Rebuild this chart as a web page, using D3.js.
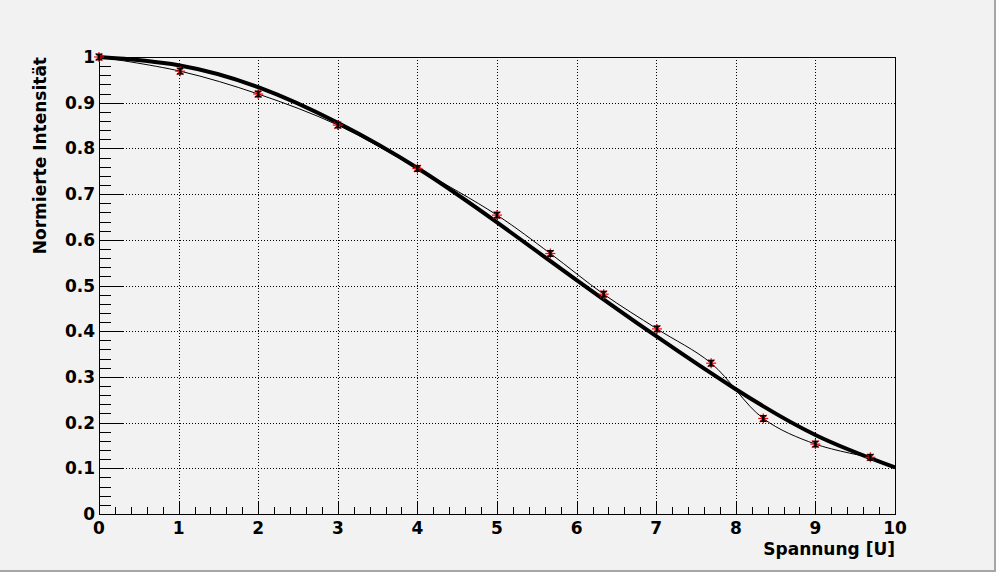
<!DOCTYPE html>
<html><head><meta charset="utf-8">
<script src="https://cdn.jsdelivr.net/npm/d3@7"></script>
<style>body{margin:0;background:#f2f2f2;}svg{display:block;}</style>
</head><body>
<script>
// Measured data points
const dataX = [0, 1.02, 2.0, 3.0, 4.0, 5.0, 5.67, 6.34, 7.01, 7.69, 8.345, 9.0, 9.69];
const dataY = [1.0, 0.969, 0.919, 0.851, 0.756, 0.654, 0.570, 0.481, 0.405, 0.330, 0.209, 0.153, 0.124];
const errY  = [0.006, 0.006, 0.006, 0.006, 0.006, 0.006, 0.006, 0.006, 0.006, 0.006, 0.006, 0.006, 0.006];
// Fit curve
const fitX = [0, 1, 2, 3, 4, 5, 6, 7, 8, 9, 10];
const fitY = [1.0, 0.982, 0.934, 0.856, 0.757, 0.638, 0.512, 0.389, 0.273, 0.173, 0.102];
const xTicks = [0,1,2,3,4,5,6,7,8,9,10];
const yTicks = [0,0.1,0.2,0.3,0.4,0.5,0.6,0.7,0.8,0.9,1];
const xTitle = "Spannung [U]";
const yTitle = "Normierte Intensität";

const W = 996, H = 572;
const L = 99, R = 895, T = 57, B = 514;
const svg = d3.select("body").append("svg").attr("width", W).attr("height", H);
svg.append("rect").attr("width", W).attr("height", H).attr("fill", "#f2f2f2");
svg.append("rect").attr("x", W-2).attr("y", 0).attr("width", 2).attr("height", H).attr("fill", "#a6a6a6");
svg.append("rect").attr("x", 0).attr("y", H-2).attr("width", W).attr("height", 2).attr("fill", "#a6a6a6");

const x = d3.scaleLinear().domain([0,10]).range([L,R]);
const y = d3.scaleLinear().domain([0,1]).range([B,T]);

// grid
const g = svg.append("g");
g.selectAll(".gx").data(xTicks.slice(1,-1)).join("line")
  .attr("x1", d=>Math.round(x(d))+0.5).attr("x2", d=>Math.round(x(d))+0.5).attr("y1", T).attr("y2", B)
  .attr("stroke","#000").attr("stroke-width",1).attr("stroke-dasharray","1,2");
g.selectAll(".gy").data(yTicks.slice(1,-1)).join("line")
  .attr("y1", d=>Math.round(y(d))+0.5).attr("y2", d=>Math.round(y(d))+0.5).attr("x1", L).attr("x2", R)
  .attr("stroke","#000").attr("stroke-width",1).attr("stroke-dasharray","1,2");

// ticks
const xMinor = d3.range(0, 10.001, 0.2);
svg.append("g").selectAll("line").data(xMinor).join("line")
  .attr("x1", d=>Math.round(x(d))+0.5).attr("x2", d=>Math.round(x(d))+0.5)
  .attr("y1", B).attr("y2", (d,i)=> i%5===0 ? B-13 : B-7)
  .attr("stroke","#000").attr("stroke-width",1);
const yMinor = d3.range(0, 1.0001, 0.02);
svg.append("g").selectAll("line").data(yMinor).join("line")
  .attr("y1", d=>Math.round(y(d))+0.5).attr("y2", d=>Math.round(y(d))+0.5)
  .attr("x1", L).attr("x2", (d,i)=> i%5===0 ? L+24 : L+12)
  .attr("stroke","#000").attr("stroke-width",1);

// frame
svg.append("rect").attr("x", L+0.5).attr("y", T+0.5).attr("width", R-L).attr("height", B-T)
  .attr("fill","none").attr("stroke","#000").attr("stroke-width",1);

// labels
const font = "'DejaVu Sans', sans-serif";
svg.append("g").selectAll("text").data(xTicks).join("text")
  .attr("x", d=>x(d)).attr("y", 534).attr("text-anchor","middle")
  .attr("font-family", font).attr("font-weight","bold").attr("font-size", 17)
  .text(d=>d3.format("d")(d));
svg.append("g").selectAll("text").data(yTicks).join("text")
  .attr("x", 95).attr("y", d=>y(d)+6).attr("text-anchor","end")
  .attr("font-family", font).attr("font-weight","bold").attr("font-size", 17)
  .text(d=> d===0 ? "0" : d===1 ? "1" : d3.format(".1f")(d));
svg.append("text").attr("x", R).attr("y", 555).attr("text-anchor","end")
  .attr("font-family", font).attr("font-weight","bold").attr("font-size", 17).text(xTitle);
svg.append("text").attr("transform", `translate(46,${T}) rotate(-90)`).attr("text-anchor","end")
  .attr("font-family", font).attr("font-weight","bold").attr("font-size", 17).text(yTitle);

// fit curve (thick)
const fitPts = fitX.map((v,i)=>[v, fitY[i]]);
svg.append("path").datum(fitPts)
  .attr("d", d3.line().x(d=>x(d[0])).y(d=>y(d[1])).curve(d3.curveNatural))
  .attr("fill","none").attr("stroke","#000").attr("stroke-width",4);

// smooth thin curve through data
const pts = dataX.map((v,i)=>[v, dataY[i]]);
svg.append("path").datum(pts)
  .attr("d", d3.line().x(d=>x(d[0])).y(d=>y(d[1])).curve(d3.curveCatmullRom.alpha(0.5)))
  .attr("fill","none").attr("stroke","#000").attr("stroke-width",1);

// markers (asterisk) + error bars
const mk = svg.append("g");
pts.forEach((p,i)=>{
  const cx = x(p[0]), cy = y(p[1]), r = 5;
  const gg = mk.append("g").attr("stroke","#ff0000").attr("stroke-width",1.2);
  gg.append("line").attr("x1",cx-r).attr("x2",cx+r).attr("y1",cy).attr("y2",cy);
  gg.append("line").attr("x1",cx).attr("x2",cx).attr("y1",cy-r).attr("y2",cy+r);
  gg.append("line").attr("x1",cx-r*0.7).attr("x2",cx+r*0.7).attr("y1",cy-r*0.7).attr("y2",cy+r*0.7);
  gg.append("line").attr("x1",cx-r*0.7).attr("x2",cx+r*0.7).attr("y1",cy+r*0.7).attr("y2",cy-r*0.7);
  const e = mk.append("g").attr("stroke","#000").attr("stroke-width",2);
  const y1 = y(p[1]+errY[i]), y2 = y(p[1]-errY[i]);
  e.append("line").attr("x1",cx).attr("x2",cx).attr("y1",y1).attr("y2",y2).attr("stroke-width",2.5);
  e.append("line").attr("x1",cx-3).attr("x2",cx+3).attr("y1",y1).attr("y2",y1).attr("stroke-width",1.5);
  e.append("line").attr("x1",cx-3).attr("x2",cx+3).attr("y1",y2).attr("y2",y2).attr("stroke-width",1.5);
});
</script>
</body></html>
